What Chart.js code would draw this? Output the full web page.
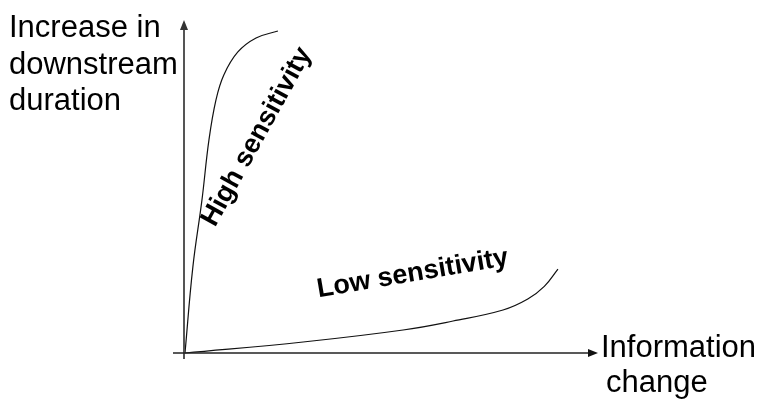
<!DOCTYPE html>
<html>
<head>
<meta charset="utf-8">
<script src="https://cdn.jsdelivr.net/npm/chart.js@4.4.0/dist/chart.umd.min.js"></script>
<style>
    body { margin: 0; background: #fff; }
    #wrap { width: 759px; height: 403px; position: relative; }
</style>
</head>
<body>
<div id="wrap"><canvas id="sensChart"></canvas></div>
<script>
// Curve points: information change (x) vs increase in downstream duration (y), 0-100
const highX = [0, 1.9, 4.1, 5.8, 7.5, 9.4, 12.8, 17.2, 22.5];
const highY = [0, 25.8, 45.9, 64.0, 76.0, 83.5, 90.4, 94.6, 96.7];

const lowX = [0, 28.6, 52.8, 64.9, 77.0, 83.0, 87.0, 90.3];
const lowY = [0, 3.3, 6.9, 9.6, 12.9, 16.2, 20.0, 25.2];

const yTitle = ['Increase in', 'downstream', 'duration'];
const xTitle = ['Information', 'change'];

const curveLabels = [
    { text: 'High sensitivity', x: 17.4, y: 64.9, angle: -61 },
    { text: 'Low sensitivity', x: 55.4, y: 21.6, angle: -9.6 }
];

function toPoints(xs, ys) {
    return xs.map((x, i) => ({ x: x, y: ys[i] }));
}

function arrowHead(ctx, tipX, tipY, dirX, dirY) {
    const len = 10, half = 4;
    const px = -dirY, py = dirX;
    ctx.beginPath();
    ctx.moveTo(tipX, tipY);
    ctx.lineTo(tipX - dirX * len + px * half, tipY - dirY * len + py * half);
    ctx.lineTo(tipX - dirX * len - px * half, tipY - dirY * len - py * half);
    ctx.closePath();
    ctx.fill();
}

// Axes with arrows plus the text annotations
const decorations = {
    id: 'decorations',
    afterDraw(chart) {
        const ctx = chart.ctx;
        const xs = chart.scales.x, ys = chart.scales.y;
        const ox = xs.getPixelForValue(0), oy = ys.getPixelForValue(0);
        const xEnd = xs.getPixelForValue(100), yEnd = ys.getPixelForValue(100);

        ctx.save();
        // y axis
        ctx.strokeStyle = '#555';
        ctx.fillStyle = '#333';
        ctx.lineWidth = 2;
        ctx.beginPath();
        ctx.moveTo(ox - 1, oy + 6);
        ctx.lineTo(ox - 1, yEnd + 8);
        ctx.stroke();
        arrowHead(ctx, ox - 1, yEnd, 0, -1);

        // x axis
        ctx.strokeStyle = '#222';
        ctx.fillStyle = '#111';
        ctx.lineWidth = 1.5;
        ctx.beginPath();
        ctx.moveTo(ox - 12, oy);
        ctx.lineTo(xEnd - 6, oy);
        ctx.stroke();
        arrowHead(ctx, xEnd, oy, 1, 0);

        // axis titles
        ctx.fillStyle = '#000';
        ctx.font = '31px "Liberation Sans", Arial, sans-serif';
        ctx.textAlign = 'left';
        ctx.textBaseline = 'alphabetic';
        yTitle.forEach((line, i) => ctx.fillText(line, 9, 37 + i * 36.5));
        ctx.fillText(xTitle[0], xEnd + 3, oy + 4);
        ctx.fillText(xTitle[1], xEnd + 8, oy + 39);

        // curve labels
        ctx.font = 'bold 27px "Liberation Sans", Arial, sans-serif';
        curveLabels.forEach(lbl => {
            ctx.save();
            ctx.translate(xs.getPixelForValue(lbl.x), ys.getPixelForValue(lbl.y));
            ctx.rotate(lbl.angle * Math.PI / 180);
            ctx.textAlign = 'center';
            ctx.textBaseline = lbl.angle < -30 ? 'middle' : 'alphabetic';
            ctx.fillText(lbl.text, 0, 0);
            ctx.restore();
        });
        ctx.restore();
    }
};

new Chart(document.getElementById('sensChart'), {
    type: 'line',
    data: {
        datasets: [
            {
                label: 'High sensitivity',
                data: toPoints(highX, highY),
                borderColor: '#111',
                borderWidth: 1.2,
                pointRadius: 0,
                tension: 0.4,
                clip: false
            },
            {
                label: 'Low sensitivity',
                data: toPoints(lowX, lowY),
                borderColor: '#111',
                borderWidth: 1.2,
                pointRadius: 0,
                tension: 0.4,
                clip: false
            }
        ]
    },
    options: {
        responsive: true,
        maintainAspectRatio: false,
        animation: false,
        layout: { padding: { left: 185, right: 161, top: 20, bottom: 50 } },
        scales: {
            x: { type: 'linear', min: 0, max: 100, display: false },
            y: { type: 'linear', min: 0, max: 100, display: false }
        },
        plugins: {
            legend: { display: false },
            tooltip: { enabled: false }
        }
    },
    plugins: [decorations]
});
</script>
</body>
</html>
